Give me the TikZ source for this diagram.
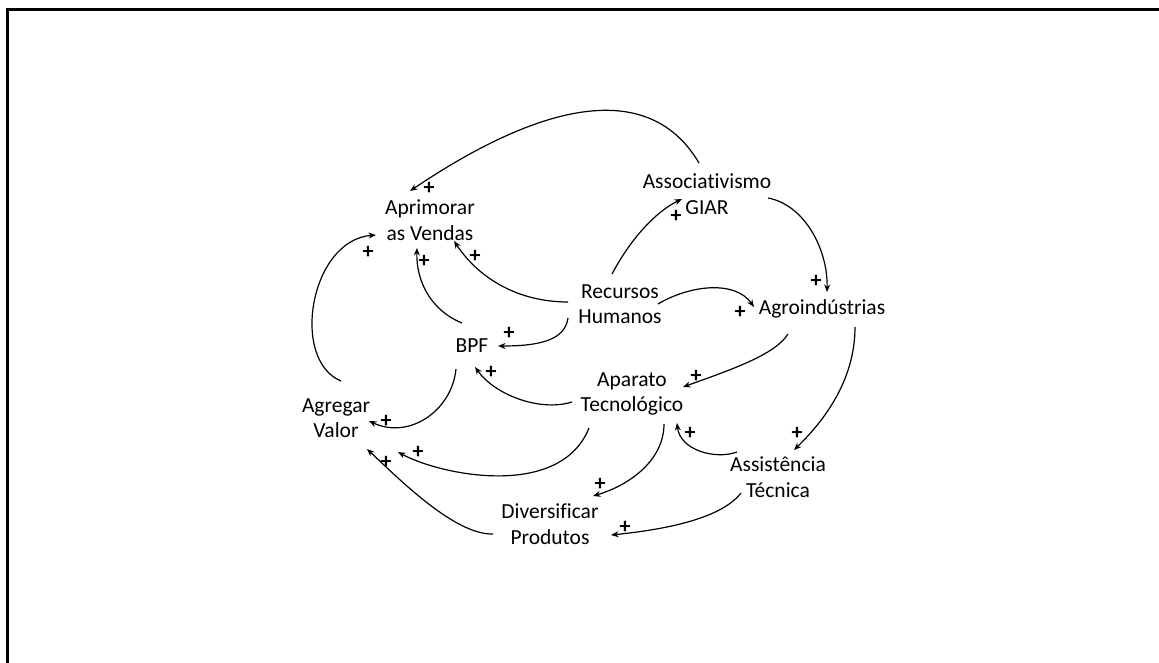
\documentclass[tikz,border=0pt]{standalone}
\usepackage{fontspec}
\setmainfont{Carlito}[Ligatures=NoCommon]
\usetikzlibrary{arrows.meta,calc}
\begin{document}
\begin{tikzpicture}[x=1pt,y=-1pt,
  var/.style={align=center,inner sep=0pt,font=\fontsize{21.5}{25.5}\selectfont},
  sgn/.style={inner sep=0pt,font=\fontsize{22}{22}\selectfont\bfseries},
  link/.style={line width=1.2pt,-{Stealth[length=7.5pt,width=6pt]}}]
\useasboundingbox (0,0) rectangle (1159,663);
% open frame along the top and the left edge
\draw[line width=3pt] (1159,10) -- (7,10) -- (7,663);

% variables
\node[var] (apr)   at (430,220) {Aprimorar\\as Vendas};
\node[var] (ass)   at (707,194) {Associativismo\\GIAR};
\node[var] (rec)   at (620,304) {Recursos\\Humanos};
\node[var] (agro)  at (822,309) {Agroindústrias};
\node[var] (bpf)   at (472,346) {BPF};
\node[var] (apa)   at (632,394) {Aparato\\Tecnológico};
\node[var] (agr)   at (336,418) {Agregar\\Valor};
\node[var] (assis) at (778,477) {Assistência\\Técnica};
\node[var] (div)   at (550,524) {Diversificar\\Produtos};

% causal links
\draw[link] ($(ass)+(-8,-31)$) .. controls (650,80) and (545,100) .. ($(apr)+(-20,-29)$);
\draw[link] ($(rec)+(-8,-30)$) .. controls (630,240) and (655,212) .. ($(ass)+(-25,5)$);
\draw[link] ($(ass)+(61,4)$) .. controls (805,205) and (828,250) .. ($(agro)+(5,-17)$);
\draw[link] ($(rec)+(38,0)$) .. controls (690,285) and (735,280) .. ($(agro)+(-68,-2)$);
\draw[link] ($(rec)+(-52,-2)$) .. controls (520,302) and (480,280) .. ($(apr)+(24,21)$);
\draw[link] ($(rec)+(-52,14)$) .. controls (565,340) and (540,346) .. ($(bpf)+(26,0)$);
\draw[link] ($(bpf)+(-10,-23)$) .. controls (430,310) and (416,280) .. ($(apr)+(-13,28)$);
\draw[link] ($(agr)+(5,-37)$) .. controls (290,360) and (310,240) .. ($(apr)+(-54,15)$);
\draw[link] ($(bpf)+(-16,23)$) .. controls (452,410) and (410,440) .. ($(agr)+(33,3)$);
\draw[link] ($(apa)+(-60,8)$) .. controls (540,412) and (495,395) .. ($(bpf)+(3,21)$);
\draw[link] ($(agro)+(-34,25)$) .. controls (775,355) and (730,370) .. ($(apa)+(51,-7)$);
\draw[link] ($(apa)+(-43,34)$) .. controls (560,500) and (440,475) .. ($(agr)+(62,34)$);
\draw[link] ($(apa)+(32,30)$) .. controls (664,460) and (630,485) .. ($(div)+(43,-28)$);
\draw[link] ($(assis)+(-41,-25)$) .. controls (715,460) and (680,450) .. ($(apa)+(45,29)$);
\draw[link] ($(agro)+(33,18)$) .. controls (855,375) and (830,415) .. ($(assis)+(16,-27)$);
\draw[link] ($(assis)+(-37,16)$) .. controls (720,520) and (660,530) .. ($(div)+(61,11)$);
\draw[link] ($(div)+(-57,10)$) .. controls (455,535) and (400,480) .. ($(agr)+(31,31)$);

% polarity signs
\node[sgn] (p1)  at (429,188) {+};
\node[sgn] (p2)  at (676,216) {+};
\node[sgn] (p3)  at (816,281) {+};
\node[sgn] (p4)  at (740,312) {+};
\node[sgn] (p5)  at (475,256) {+};
\node[sgn] (p6)  at (509,333) {+};
\node[sgn] (p7)  at (424,261) {+};
\node[sgn] (p8)  at (368,252) {+};
\node[sgn] (p9)  at (386,421) {+};
\node[sgn] (p10) at (491,372) {+};
\node[sgn] (p11) at (696,376) {+};
\node[sgn] (p12) at (418,452) {+};
\node[sgn] (p13) at (600,484) {+};
\node[sgn] (p14) at (690,433) {+};
\node[sgn] (p15) at (797,433) {+};
\node[sgn] (p16) at (625,527) {+};
\node[sgn] (p17) at (386,462) {+};
\end{tikzpicture}
\end{document}
